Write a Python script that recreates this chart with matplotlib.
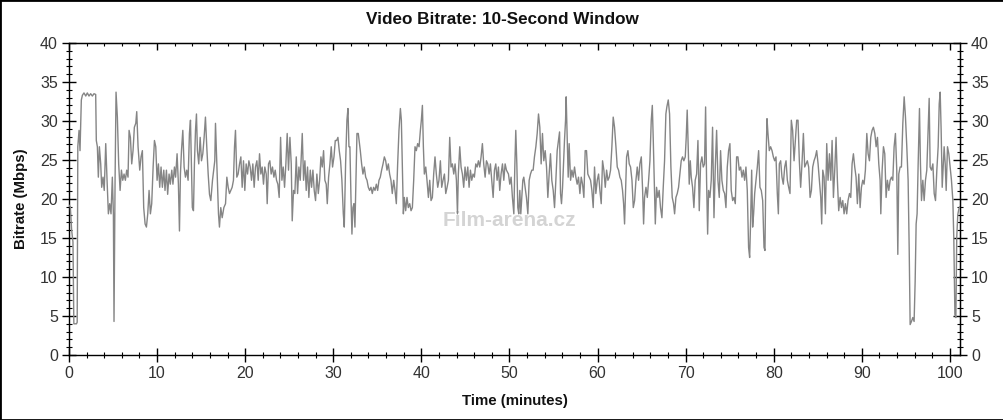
import matplotlib
matplotlib.use("Agg")
import matplotlib.pyplot as plt
from matplotlib.ticker import MultipleLocator
from matplotlib.patches import Rectangle

# ---- data ----
time_min = [
    0.0, 0.15, 0.3, 0.45, 0.55, 0.85, 0.93,
    1.0, 1.14, 1.25, 1.4, 1.52, 1.7, 1.9, 2.08, 2.27, 2.46, 2.65, 2.84, 3.03,
    3.1, 3.22, 3.33, 3.45, 3.6, 3.71, 3.86, 4.0, 4.17, 4.32, 4.47, 4.62, 4.77, 4.92,
    5.04, 5.11, 5.23, 5.34, 5.49, 5.64, 5.8, 5.95, 6.1, 6.25, 6.4, 6.55, 6.7, 6.82,
    6.97, 7.12, 7.27, 7.42, 7.58, 7.69, 7.84, 8.03, 8.18, 8.33, 8.48, 8.64, 8.79,
    8.94, 9.09, 9.24, 9.39, 9.55, 9.7, 9.85, 10.0, 10.15, 10.3, 10.45, 10.6, 10.76,
    10.9, 11.06, 11.2, 11.36, 11.5, 11.67, 11.8, 11.97, 12.1, 12.27, 12.42, 12.54,
    12.65, 12.77, 12.92, 13.07, 13.22, 13.37, 13.52, 13.67, 13.79, 13.9, 14.0, 14.13,
    14.24, 14.36, 14.47, 14.58, 14.73, 14.89, 15.04, 15.19, 15.34, 15.49, 15.64, 15.8,
    15.95, 16.1, 16.29, 16.55,
    16.63, 16.82, 16.97, 17.08, 17.23, 17.39, 17.58, 17.77, 17.92, 18.07, 18.22, 18.37,
    18.52, 18.67, 18.79, 18.9, 19.05, 19.2, 19.36, 19.51, 19.66, 19.81, 19.96, 20.11,
    20.27, 20.42, 20.57, 20.72, 20.87, 21.02, 21.17, 21.33, 21.48, 21.63, 21.78, 21.93,
    22.08, 22.23, 22.39, 22.5, 22.65, 22.8, 22.95, 23.1, 23.26, 23.41, 23.56, 23.71,
    23.86, 24.02, 24.17, 24.32, 24.47, 24.62, 24.77, 24.92, 25.08, 25.23, 25.34, 25.49,
    25.64, 25.8, 25.95, 26.1, 26.25, 26.36, 26.48, 26.63, 26.78, 26.93, 27.08, 27.23,
    27.39, 27.54, 27.69, 27.84, 27.99, 28.14, 28.3, 28.45, 28.6, 28.75, 28.9, 29.05,
    29.2, 29.32, 29.47, 29.62, 29.77, 29.92, 30.08, 30.23, 30.38, 30.53, 30.68, 30.83,
    30.98, 31.14, 31.25, 31.4, 31.55, 31.67, 31.78, 31.89, 32.01, 32.12, 32.23, 32.35,
    32.46, 32.58, 32.69, 32.84,
    33.07, 33.22, 33.37, 33.52, 33.68, 33.83, 33.98, 34.13, 34.28, 34.43, 34.58, 34.74,
    34.89, 35.04, 35.19, 35.34, 35.49, 35.65, 35.8, 35.95, 36.1, 36.25, 36.4, 36.55,
    36.7, 36.86, 37.01, 37.16, 37.31, 37.46, 37.62, 37.73, 37.84, 37.96, 38.07, 38.22,
    38.37, 38.52, 38.68, 38.83, 38.98, 39.13, 39.28, 39.43, 39.58, 39.74, 39.89, 40.0,
    40.12, 40.23, 40.34, 40.5, 40.64, 40.8, 40.95, 41.1, 41.25, 41.4, 41.55, 41.7,
    41.86, 42.0, 42.16, 42.31, 42.46, 42.62, 42.77, 42.92, 43.07, 43.22, 43.37, 43.52,
    43.68, 43.83, 43.98, 44.1, 44.2, 44.36, 44.51, 44.66, 44.81, 44.96, 45.11, 45.27,
    45.42, 45.57, 45.72, 45.87, 46.02, 46.18, 46.33, 46.48, 46.63, 46.78, 46.93, 47.08,
    47.24, 47.39, 47.54, 47.69, 47.84, 47.99, 48.15, 48.3, 48.45, 48.6, 48.75, 48.9,
    49.05, 49.21, 49.36, 49.51, 49.66,
    49.89, 50.04, 50.19, 50.34, 50.5, 50.61, 50.72, 50.84, 50.95, 51.06, 51.18, 51.29,
    51.4, 51.52, 51.63, 51.78, 51.93, 52.09, 52.24, 52.39, 52.54, 52.69, 52.84, 53.0,
    53.15, 53.3, 53.45, 53.6, 53.75, 53.9, 54.06, 54.21, 54.36, 54.51, 54.66, 54.81,
    54.97, 55.12, 55.27, 55.42, 55.57, 55.69, 55.8, 55.91, 56.03, 56.14, 56.25, 56.37,
    56.44, 56.56, 56.67, 56.78, 56.94, 57.09, 57.24, 57.39, 57.54, 57.69, 57.84, 58.0,
    58.15, 58.3, 58.45, 58.6, 58.75, 58.9, 59.06, 59.21, 59.36, 59.51, 59.66, 59.81,
    59.97, 60.12, 60.27, 60.42, 60.57, 60.72, 60.88, 61.03, 61.18, 61.33, 61.48, 61.63,
    61.78, 61.93, 62.09, 62.24, 62.39, 62.54, 62.69, 62.84, 62.96, 63.07, 63.19, 63.3,
    63.45, 63.6, 63.75, 63.91, 64.06, 64.21, 64.36, 64.51, 64.66, 64.81, 64.97, 65.12,
    65.23, 65.34, 65.5, 65.65, 65.8, 65.95, 66.1, 66.22, 66.33, 66.44, 66.56,
    66.7, 66.85, 67.0, 67.15, 67.31, 67.46, 67.61, 67.76, 67.87, 68.03, 68.18, 68.33,
    68.48, 68.63, 68.75, 68.9, 69.05, 69.2, 69.35, 69.5, 69.65, 69.8, 69.96, 70.07,
    70.18, 70.3, 70.41, 70.53, 70.64, 70.79, 70.94, 71.09, 71.25, 71.4, 71.55, 71.7,
    71.85, 72.0, 72.15, 72.27, 72.38, 72.5, 72.61, 72.76, 72.91, 73.06, 73.22, 73.37,
    73.52, 73.67, 73.82, 73.97, 74.12, 74.28, 74.43, 74.58, 74.73, 74.88, 75.03, 75.18,
    75.34, 75.49, 75.64, 75.79, 75.94, 76.09, 76.25, 76.4, 76.55, 76.7, 76.85, 77.0,
    77.15, 77.27, 77.38, 77.5, 77.61, 77.72, 77.84, 77.99, 78.14, 78.29, 78.44, 78.59,
    78.75, 78.9, 79.01, 79.12, 79.24, 79.35, 79.5, 79.65, 79.81, 79.96, 80.11, 80.26,
    80.41, 80.53, 80.64, 80.79, 80.94, 81.09, 81.25, 81.4, 81.55, 81.7, 81.85, 82.0,
    82.15, 82.31, 82.46, 82.61, 82.76, 82.91, 83.06, 83.21, 83.37,
    83.52, 83.67, 83.82, 83.97, 84.13, 84.28, 84.43, 84.58, 84.73, 84.88, 85.04, 85.19,
    85.34, 85.45, 85.57, 85.72, 85.87, 86.02, 86.17, 86.33, 86.48, 86.63, 86.78, 86.93,
    87.08, 87.23, 87.38, 87.54, 87.69, 87.84, 87.99, 88.14, 88.29, 88.44, 88.6, 88.75,
    88.9, 89.05, 89.2, 89.35, 89.5, 89.66, 89.81, 89.96, 90.11, 90.26, 90.41, 90.57,
    90.72, 90.87, 91.02, 91.17, 91.32, 91.48, 91.63, 91.78, 91.93, 92.08, 92.16, 92.31,
    92.46, 92.61, 92.76, 92.91, 93.07, 93.22, 93.37, 93.52, 93.67, 93.82, 93.97, 94.09,
    94.2, 94.35, 94.5, 94.66, 94.81, 94.96, 95.11, 95.26, 95.38, 95.49, 95.64, 95.79,
    95.94, 96.06, 96.17, 96.28, 96.4, 96.55, 96.66, 96.78, 96.93, 97.08, 97.23, 97.38,
    97.54, 97.65, 97.76, 97.91, 98.07, 98.22, 98.37, 98.52, 98.67, 98.79, 98.9, 99.01,
    99.13, 99.24, 99.35, 99.47, 99.58, 99.73, 99.88, 100.03, 100.18, 100.34, 100.45,
    100.57, 100.68, 100.78, 100.9, 101.0, 101.1,
]
bitrate_mbps = [
    19.2, 19.0, 16.0, 14.5, 4.0, 4.0, 4.2,
    26.7, 28.8, 26.2, 32.7, 33.3, 33.6, 33.2, 33.6, 33.2, 33.5, 33.2, 33.5, 33.4,
    27.5, 26.7, 22.8, 26.7, 24.5, 21.5, 22.8, 21.1, 27.1, 22.4, 18.1, 19.4, 18.1, 22.8,
    18.1, 4.3, 22.4, 33.7, 30.5, 24.5, 21.1, 23.7, 22.4, 23.2, 22.4, 23.7, 22.8, 28.8,
    27.9, 24.5, 26.2, 29.2, 29.7, 31.2, 26.7, 23.7, 25.4, 26.2, 18.9, 16.8, 16.4,
    18.1, 21.1, 18.1, 19.4, 24.1, 27.5, 26.7, 22.4, 24.5, 21.5, 24.1, 21.5, 23.7,
    21.1, 23.7, 20.6, 23.2, 21.9, 23.7, 21.9, 24.1, 22.8, 25.8, 21.9, 15.9,
    23.2, 26.2, 28.8, 24.1, 22.8, 23.7, 22.4, 28.4, 30.1, 24.1, 18.9, 18.5,
    24.5, 28.8, 30.9, 26.2, 24.5, 27.9, 24.9, 25.8, 27.9, 30.5, 26.7, 23.2,
    20.6, 19.8, 22.4, 24.9,
    29.7, 23.2, 18.1, 16.4, 18.9, 17.6, 18.9, 19.4, 22.8, 21.5, 20.7, 21.1,
    21.5, 22.4, 26.7, 28.8, 22.8, 23.2, 24.5, 25.4, 21.5, 24.9, 21.1, 24.5,
    23.2, 24.9, 24.1, 22.4, 24.5, 21.5, 24.1, 24.9, 22.4, 25.8, 23.2, 24.1,
    21.9, 24.1, 23.2, 19.4, 24.5, 24.9, 23.2, 24.1, 22.8, 23.7, 22.4, 21.9,
    20.2, 27.9, 22.4, 24.1, 21.5, 24.5, 28.4, 23.7, 27.9, 24.5, 17.2, 21.1,
    20.7, 25.4, 20.7, 24.1, 22.4, 25.4, 28.4, 22.4, 24.9, 21.1, 24.1, 20.2,
    23.7, 21.5, 23.7, 21.1, 19.8, 23.2, 20.7, 22.4, 25.4, 24.1, 26.2, 22.4,
    21.9, 19.4, 22.8, 24.5, 26.7, 24.1, 25.4, 27.5, 27.5, 27.9, 26.2, 24.9,
    22.4, 18.1, 16.4, 24.5, 30.1, 31.6, 26.7, 26.7, 20.2, 15.5, 18.9, 19.4,
    16.4, 22.4, 28.4, 28.4,
    26.2, 24.5, 23.2, 24.1, 22.8, 22.4, 21.5, 21.1, 21.5, 20.7, 21.5, 21.1,
    21.9, 21.1, 22.4, 22.8, 23.7, 24.5, 25.4, 24.9, 23.7, 24.5, 23.2, 22.4,
    20.7, 22.4, 21.1, 19.4, 24.5, 28.8, 31.6, 30.1, 24.5, 18.1, 20.2, 18.5,
    20.2, 18.9, 19.4, 18.5, 18.9, 22.4, 26.7, 26.2, 27.1, 26.7, 28.8, 30.1,
    32.0, 26.7, 23.2, 24.1, 22.4, 20.2, 22.4, 19.8, 20.2, 23.2, 25.4, 23.2,
    21.5, 22.4, 24.9, 21.5, 22.4, 23.2, 20.7, 21.5, 22.4, 27.9, 24.1, 24.5,
    23.2, 24.5, 22.4, 18.1, 23.2, 26.7, 24.1, 23.2, 21.5, 24.1, 22.4, 24.1,
    21.5, 23.7, 22.4, 23.2, 22.8, 24.5, 24.1, 24.9, 24.1, 25.4, 27.1, 24.5,
    22.8, 24.9, 24.5, 23.2, 24.5, 22.4, 20.2, 23.7, 24.5, 22.4, 24.1, 21.1,
    23.2, 24.5, 22.4, 24.5, 23.7,
    23.2, 21.9, 22.8, 20.2, 18.1, 24.1, 28.8, 24.5, 18.9, 18.1, 21.1, 18.1,
    20.2, 22.4, 22.8, 21.5, 20.2, 18.1, 22.4, 23.2, 23.7, 23.7, 25.4, 26.7,
    28.4, 30.9, 29.2, 24.5, 28.4, 24.9, 26.2, 24.1, 20.2, 23.2, 25.8, 22.4,
    21.1, 18.9, 22.4, 26.2, 27.5, 28.6, 20.7, 19.4, 21.5, 24.5, 27.5, 30.1,
    33.1, 27.5, 22.8, 27.1, 22.4, 23.7, 22.8, 24.1, 22.8, 21.9, 22.8, 20.7,
    22.8, 21.9, 20.2, 26.2, 26.2, 23.2, 22.8, 22.4, 21.1, 18.9, 24.1, 20.7,
    22.4, 23.2, 21.1, 19.4, 24.9, 23.7, 21.5, 23.7, 22.4, 22.8, 23.7, 26.7,
    30.5, 29.2, 26.7, 24.1, 23.7, 22.8, 22.4, 21.1, 19.4, 16.8, 21.5, 25.4,
    26.2, 24.5, 24.1, 22.4, 18.9, 19.8, 22.4, 24.1, 22.4, 24.5, 25.4, 21.1,
    16.8, 20.2, 21.5, 20.2, 22.4, 24.9, 30.1, 32.0, 27.5, 22.4, 16.8,
    21.5, 20.2, 21.1, 18.9, 17.6, 21.5, 24.9, 30.9, 31.8, 32.7, 30.9, 24.1,
    20.2, 19.4, 18.1, 20.2, 20.7, 21.5, 23.2, 24.9, 25.4, 24.9, 25.4, 27.9,
    31.4, 26.7, 21.9, 24.9, 22.8, 21.5, 18.9, 22.4, 23.2, 27.5, 18.5, 24.5,
    25.4, 24.1, 24.5, 31.8, 22.4, 15.5, 21.1, 20.2, 22.4, 29.2, 17.6, 24.1,
    28.8, 22.4, 20.2, 26.2, 22.4, 21.1, 20.7, 18.9, 24.1, 26.2, 27.1, 21.1,
    19.8, 20.2, 19.4, 25.4, 25.4, 23.7, 24.1, 22.8, 23.7, 22.4, 24.1, 21.1,
    13.8, 12.5, 17.2, 23.7, 16.4, 18.1, 20.7, 22.4, 24.1, 26.2, 21.5, 21.1,
    19.8, 13.8, 13.4, 24.5, 30.3, 28.4, 26.2, 26.7, 26.2, 25.4, 24.9, 25.4,
    20.7, 18.1, 24.5, 24.9, 22.8, 21.9, 24.1, 24.9, 22.4, 21.5, 20.7, 30.1,
    28.8, 24.9, 27.5, 30.1, 30.1, 24.9, 21.5, 24.5, 28.4,
    24.1, 24.5, 24.9, 24.1, 20.2, 21.1, 24.1, 24.9, 25.4, 26.2, 24.5, 22.4,
    20.2, 16.8, 23.7, 22.8, 18.1, 27.1, 22.4, 25.8, 22.4, 27.5, 20.2, 23.7,
    27.9, 22.4, 18.5, 20.2, 18.9, 19.8, 18.1, 19.4, 18.1, 19.8, 20.7, 20.2,
    24.5, 25.8, 24.1, 22.8, 19.4, 23.2, 18.9, 21.5, 22.4, 21.9, 23.7, 28.4,
    25.8, 24.9, 27.9, 28.8, 29.2, 28.4, 26.7, 27.9, 24.5, 22.4, 18.1, 23.7,
    26.7, 25.8, 20.2, 22.4, 21.1, 22.4, 22.8, 22.4, 26.7, 28.4, 23.7, 12.9,
    23.2, 24.1, 24.1, 29.7, 33.1, 30.5, 26.7, 22.4, 13.8, 3.9, 4.3, 4.8,
    4.3, 9.5, 16.8, 18.1, 24.5, 31.6, 24.5, 19.8, 22.4, 19.8, 22.4, 23.7,
    29.2, 32.9, 24.1, 23.7, 24.5, 20.7, 19.8, 23.7, 26.7, 32.2, 33.7, 28.8,
    21.5, 24.1, 26.7, 24.5, 21.1, 26.7, 25.8, 24.1, 22.4, 19.8, 14.7,
    5.2, 4.8, 15.1, 18.0, 18.6, 19.0,
]

x_ticks = [0, 10, 20, 30, 40, 50, 60, 70, 80, 90, 100]
y_ticks = [0, 5, 10, 15, 20, 25, 30, 35, 40]
title_text = "Video Bitrate: 10-Second Window"
x_label = "Time (minutes)"
y_label = "Bitrate (Mbps)"

# ---- figure ----
plt.rcParams['font.family'] = ['Liberation Sans', 'DejaVu Sans']
fig = plt.figure(figsize=(10.04, 4.20), dpi=100)
ax = fig.add_axes([69 / 1004, (420 - 355) / 420, (960 - 69) / 1004, (355 - 43) / 420])

ax.plot(time_min, bitrate_mbps, color='#858585', lw=1.0, zorder=3)

ax.set_xlim(0, 101.15)
ax.set_ylim(0, 40)
ax.set_xticks(x_ticks)
ax.set_yticks(y_ticks)
ax.xaxis.set_minor_locator(MultipleLocator(2))
ax.yaxis.set_minor_locator(MultipleLocator(1))

tick_color = '#333333'
tick_size = 11.5
ax.tick_params(axis='both', which='major', direction='inout', length=10, width=1,
               labelsize=tick_size, labelcolor=tick_color, pad=3)
ax.tick_params(axis='both', which='minor', direction='inout', length=5, width=0.8)
ax.tick_params(axis='x', top=False)

sec_y = ax.secondary_yaxis('right')
sec_y.set_yticks(y_ticks)
sec_y.yaxis.set_minor_locator(MultipleLocator(1))
sec_y.tick_params(which='major', direction='inout', length=10, width=1,
                  labelsize=tick_size, labelcolor=tick_color, pad=3)
sec_y.tick_params(which='minor', direction='inout', length=5, width=0.8)

sec_x = ax.secondary_xaxis('top')
sec_x.set_xticks(x_ticks)
sec_x.xaxis.set_minor_locator(MultipleLocator(2))
sec_x.tick_params(which='major', direction='in', length=5, width=1, labeltop=False)
sec_x.tick_params(which='minor', direction='in', length=2.5, width=0.8)
sec_x.set_xticklabels([])

for sp in ax.spines.values():
    sp.set_linewidth(1.0)

ax.set_xlabel(x_label, fontsize=10.8, fontweight='bold', color='#111111', labelpad=9)
ax.set_ylabel(y_label, fontsize=10.8, fontweight='bold', color='#111111', labelpad=9)
fig.text(0.5, 1 - 20 / 420, title_text, ha='center', va='center',
         fontsize=12.3, fontweight='bold', color='#111111')

# watermark
ax.text(50.0, 17.3, "Film-arena.cz", ha='center', va='center', fontsize=15,
        fontweight='bold', color='#d4d4d4', zorder=2)

fig.patches.append(Rectangle((0, 0), 1, 1, transform=fig.transFigure, fill=False,
                             edgecolor='black', lw=2.0))

fig.savefig("out.png", dpi=100)
